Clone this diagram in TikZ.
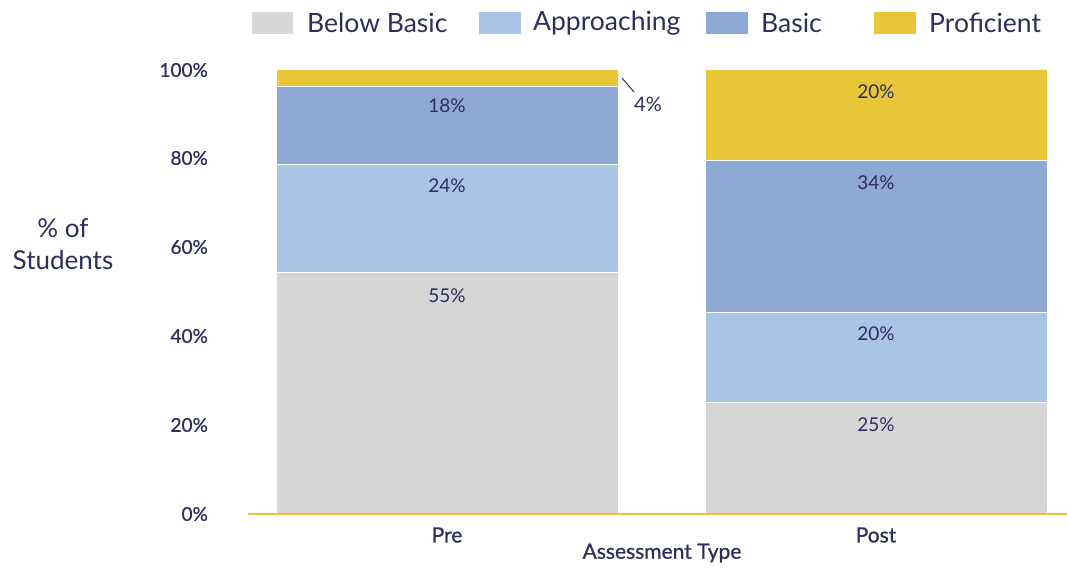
\documentclass[tikz,border=0pt]{standalone}
\usepackage{fontspec}
\setmainfont{Lato}
\newfontfamily\medfont[FakeBold=0.8]{Lato}
\definecolor{cBB}{HTML}{D6D6D6}
\definecolor{cAP}{HTML}{A9C4E5}
\definecolor{cBA}{HTML}{8FA9D5}
\definecolor{cPR}{HTML}{E8C637}
\definecolor{ink}{HTML}{2D2E5C}
\begin{document}
\begin{tikzpicture}[x=1pt,y=-1pt,
  seg/.style={draw=white,line width=1pt},
  val/.style={text=ink,font=\fontsize{19}{19}\selectfont,anchor=center,inner sep=0pt},
  tick/.style={text=ink,font=\medfont\fontsize{19}{19}\selectfont,anchor=east,inner sep=0pt},
  leg/.style={text=ink,font=\fontsize{26.5}{27}\selectfont,anchor=west,inner sep=0pt},
  cat/.style={text=ink,font=\medfont\fontsize{21}{21}\selectfont,anchor=center,inner sep=0pt}]
\useasboundingbox (0,0) rectangle (1067,567);
% legend
\fill[cBB] (252,12) rectangle (293,34);
\node[leg] (lbb) at (307,23) {Below Basic};
\fill[cAP] (479,12) rectangle (521,34);
\node[leg] (lap) at (533,23) {Approaching};
\fill[cBA] (706,12) rectangle (748,34);
\node[leg] (lba) at (761,23) {Basic};
\fill[cPR] (874,12) rectangle (916,34);
\node[leg] (lpr) at (929,23) {Proficient};
% Pre bar
\filldraw[seg,fill=cBB] (276,514) rectangle (618,272);
\filldraw[seg,fill=cAP] (276,272) rectangle (618,164);
\filldraw[seg,fill=cBA] (276,164) rectangle (618,87);
\filldraw[seg,fill=cPR] (276,87) rectangle (618,70);
\node[val] (p1) at (447,296) {55\%};
\node[val] (p2) at (447,186) {24\%};
\node[val] (p3) at (447,106) {18\%};
\coordinate (ls) at (622,78);
\coordinate (le) at (634,92);
\draw[ink,line width=1pt] (ls) -- (le);
\node[val,font=\fontsize{20}{20}\selectfont] (p4) at (648,104) {4\%};
% Post bar
\filldraw[seg,fill=cBB] (705,514) rectangle (1047,402);
\filldraw[seg,fill=cAP] (705,402) rectangle (1047,312);
\filldraw[seg,fill=cBA] (705,312) rectangle (1047,160);
\filldraw[seg,fill=cPR] (705,160) rectangle (1047,70);
\node[val] (q1) at (876,425) {25\%};
\node[val] (q2) at (876,334) {20\%};
\node[val] (q3) at (876,183) {34\%};
\node[val] (q4) at (876,92) {20\%};
% axis
\coordinate (a0) at (248,514);
\coordinate (a1) at (1067,514);
\draw[cPR,line width=2.5pt] (a0) -- (a1);
\node[tick] (t0) at (208,514) {0\%};
\node[tick] (t20) at (208,425) {20\%};
\node[tick] (t40) at (208,336) {40\%};
\node[tick] (t60) at (208,247) {60\%};
\node[tick] (t80) at (208,158) {80\%};
\node[tick] (t100) at (208,70) {100\%};
\node[cat] (cpre) at (447,535) {Pre};
\node[cat] (cpost) at (876,535) {Post};
\node[cat] (xt) at (662,553) {Assessment Type};
\node[text=ink,font=\fontsize{26}{32}\selectfont,align=center,inner sep=0pt] (yt) at (63,244) {\% of\\Students};
\end{tikzpicture}
\end{document}
